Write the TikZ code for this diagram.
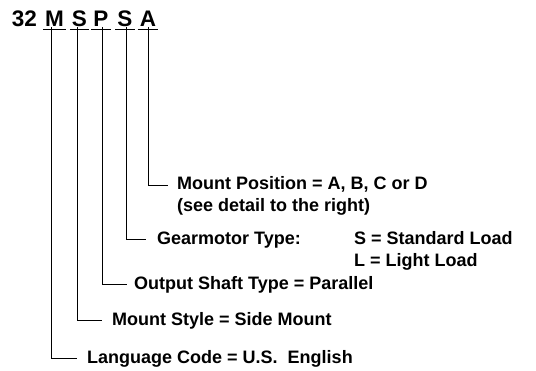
\documentclass[tikz,border=0pt]{standalone}
\usepackage{fontspec}
\setmainfont{Liberation Sans}
\begin{document}
\begin{tikzpicture}[x=1pt,y=-1pt,
  code/.style={font=\fontsize{22.5}{27}\selectfont\bfseries, inner sep=0pt, anchor=base},
  lab/.style={font=\fontsize{18}{22}\selectfont\bfseries, inner sep=0pt, anchor=base west},
  lead/.style={line width=0.8pt},
  uline/.style={line width=1.6pt}]
\useasboundingbox (0,0) rectangle (536,371);
% code letters
\node[code] (n32) at (24.3,27) {32};
\node[code] (cM) at (54.5,27) {M};
\node[code] (cS) at (79.5,27) {S};
\node[code] (cP) at (101,27) {P};
\node[code] (cT) at (125,27) {S};
\node[code] (cA) at (148,27) {A};
\foreach \n in {cM,cS,cP,cT,cA}
  \draw[uline] ([shift={(-2pt,-2.5pt)}]\n.base west) -- ([shift={(2pt,-2.5pt)}]\n.base east);
% labels
\node[lab] (lA) at (177,190) {Mount Position = A, B, C or D};
\node[lab] (lA2) at (177,212) {(see detail to the right)};
\node[lab] (lG) at (157,244.5) {Gearmotor Type:};
\node[lab] (lG2) at (354,244.5) {S = Standard Load};
\node[lab] (lG3) at (354,266.5) {L = Light Load};
\node[lab] (lP) at (134,289.5) {Output Shaft Type = Parallel};
\node[lab] (lS) at (112,325.5) {Mount Style = Side Mount};
\node[lab] (lM) at (87,363.5) {Language Code = U.S.\ \ English};
% leaders
\draw[lead] ([xshift=-3.5pt]cM.base) |- ([shift={(-10pt,5.5pt)}]lM.base west);
\draw[lead] ([xshift=-2.5pt]cS.base) |- ([shift={(-10pt,5.5pt)}]lS.base west);
\draw[lead] ([xshift=1pt]cP.base) |- ([shift={(-7pt,5.5pt)}]lP.base west);
\draw[lead] ([xshift=1pt]cT.base) |- ([shift={(-11pt,5.5pt)}]lG.base west);
\draw[lead] (cA.base) |- ([shift={(-9pt,5pt)}]lA.base west);
\end{tikzpicture}
\end{document}
